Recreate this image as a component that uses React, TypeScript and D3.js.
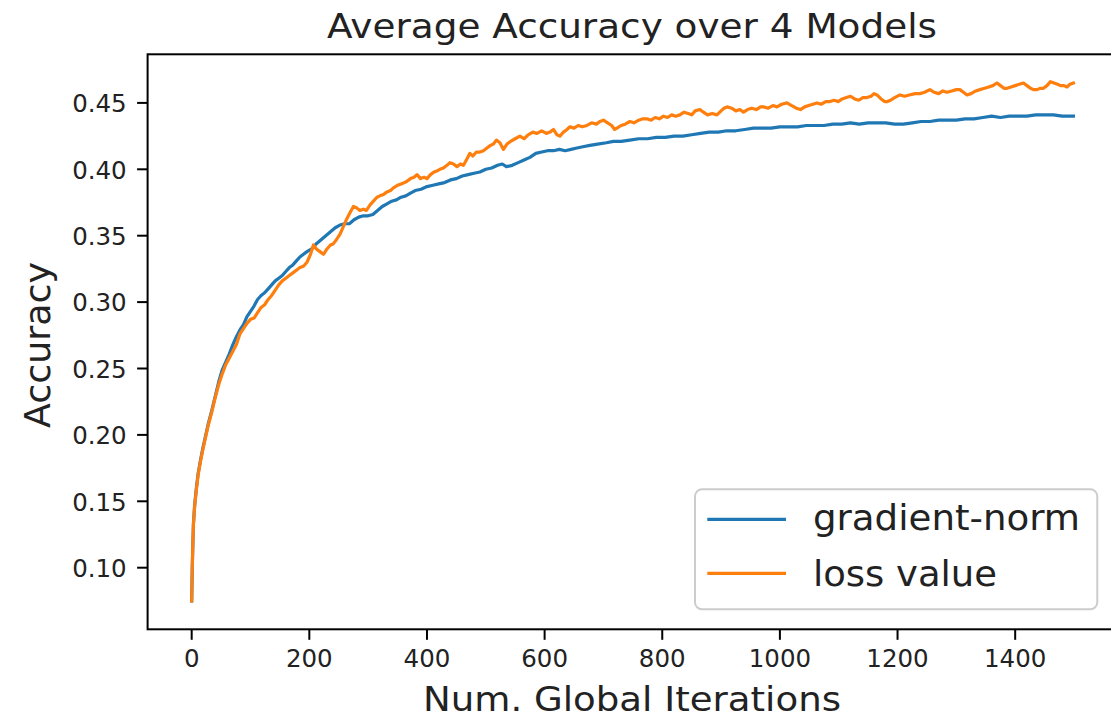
import React from "react";
import * as d3 from "d3";

const gradIters = [0,1,2,3,5,8,11,15,19,23,28,34,40,46,52,58,64,70,76,82,88,94,100,106,112,118,124,130,136,142,148,154,160,166,172,178,184,190,196,204,212,220,228,236,244,252,260,268,276,284,292,300,308,316,324,332,340,348,356,364,372,380,390,400,410,420,430,440,450,460,470,480,490,500,510,520,528,535,545,555,565,575,585,595,605,615,625,635,645,655,665,677,690,705,717,730,745,760,775,790,805,820,835,850,865,880,895,910,925,940,955,970,985,1000,1015,1030,1045,1060,1075,1090,1105,1120,1135,1150,1165,1180,1195,1210,1225,1240,1255,1270,1285,1300,1315,1330,1345,1360,1375,1390,1405,1420,1435,1450,1465,1480,1499];
const gradAcc = [0.075,0.100,0.118,0.133,0.147,0.160,0.171,0.181,0.190,0.198,0.208,0.218,0.229,0.240,0.249,0.255,0.261,0.268,0.274,0.279,0.283,0.289,0.293,0.297,0.302,0.305,0.307,0.310,0.313,0.316,0.318,0.320,0.323,0.326,0.328,0.331,0.334,0.336,0.338,0.340,0.344,0.347,0.350,0.353,0.356,0.358,0.359,0.359,0.362,0.364,0.365,0.365,0.366,0.369,0.372,0.374,0.376,0.377,0.379,0.380,0.382,0.384,0.385,0.387,0.388,0.389,0.390,0.392,0.393,0.395,0.396,0.397,0.398,0.400,0.401,0.403,0.404,0.402,0.403,0.405,0.407,0.409,0.412,0.413,0.414,0.414,0.415,0.414,0.415,0.416,0.417,0.418,0.419,0.420,0.421,0.421,0.422,0.423,0.423,0.424,0.424,0.425,0.425,0.426,0.427,0.428,0.428,0.429,0.429,0.430,0.431,0.431,0.431,0.432,0.432,0.432,0.433,0.433,0.433,0.434,0.434,0.435,0.434,0.435,0.435,0.435,0.434,0.434,0.435,0.436,0.436,0.437,0.437,0.437,0.438,0.438,0.439,0.440,0.439,0.440,0.440,0.440,0.441,0.441,0.441,0.440,0.440];

const lossIters = [0,1,2,3,5,8,11,15,19,23,28,34,40,46,52,58,64,70,76,82,88,94,100,106,112,118,124,130,136,142,148,154,160,166,172,178,184,190,196,202,207,212,218,224,230,236,241,246,252,258,264,270,275,280,286,292,297,303,309,315,320,326,332,338,343,350,356,362,366,372,378,383,389,395,400,406,412,418,422,428,434,439,445,451,457,462,467,473,478,484,490,496,502,508,513,518,524,530,536,542,550,558,565,572,580,587,595,603,609,615,621,626,632,638,643,650,657,664,672,680,688,694,700,707,714,719,723,730,737,745,752,760,767,774,781,788,795,802,809,816,823,830,837,844,850,856,864,870,877,885,893,900,905,910,918,925,932,938,945,952,960,967,972,980,988,995,1003,1012,1020,1028,1035,1042,1049,1056,1063,1070,1078,1085,1092,1099,1106,1113,1120,1127,1134,1141,1148,1155,1160,1165,1172,1178,1183,1188,1195,1204,1212,1220,1230,1238,1246,1255,1262,1270,1277,1284,1292,1300,1306,1312,1318,1325,1333,1340,1348,1355,1362,1369,1375,1381,1386,1393,1400,1407,1414,1420,1426,1431,1437,1443,1448,1454,1460,1466,1472,1477,1483,1488,1493,1499];
const lossAcc = [0.075,0.100,0.118,0.133,0.146,0.159,0.170,0.180,0.189,0.197,0.207,0.217,0.228,0.238,0.246,0.253,0.258,0.263,0.268,0.276,0.280,0.284,0.287,0.288,0.292,0.296,0.298,0.302,0.305,0.309,0.313,0.316,0.318,0.320,0.322,0.324,0.326,0.327,0.330,0.336,0.343,0.340,0.338,0.336,0.340,0.343,0.344,0.347,0.351,0.357,0.363,0.368,0.372,0.371,0.369,0.370,0.369,0.373,0.376,0.379,0.380,0.381,0.383,0.384,0.386,0.388,0.389,0.390,0.391,0.393,0.394,0.396,0.393,0.394,0.393,0.396,0.398,0.399,0.400,0.401,0.403,0.405,0.404,0.402,0.404,0.403,0.407,0.412,0.410,0.413,0.413,0.414,0.416,0.418,0.419,0.422,0.420,0.415,0.419,0.421,0.423,0.425,0.423,0.426,0.428,0.427,0.429,0.427,0.428,0.430,0.426,0.425,0.428,0.430,0.432,0.431,0.433,0.432,0.433,0.435,0.434,0.436,0.437,0.435,0.433,0.430,0.431,0.433,0.434,0.436,0.435,0.437,0.438,0.438,0.437,0.439,0.438,0.440,0.439,0.441,0.440,0.441,0.443,0.442,0.441,0.444,0.445,0.443,0.441,0.442,0.441,0.444,0.446,0.447,0.446,0.444,0.445,0.443,0.445,0.446,0.445,0.447,0.447,0.446,0.448,0.447,0.449,0.450,0.448,0.446,0.445,0.447,0.448,0.449,0.450,0.449,0.451,0.451,0.452,0.451,0.453,0.454,0.455,0.453,0.452,0.454,0.454,0.455,0.457,0.456,0.453,0.451,0.451,0.452,0.454,0.456,0.455,0.456,0.457,0.457,0.458,0.460,0.458,0.457,0.459,0.458,0.459,0.460,0.460,0.458,0.456,0.457,0.459,0.460,0.461,0.462,0.463,0.465,0.463,0.461,0.461,0.462,0.463,0.464,0.465,0.463,0.461,0.460,0.460,0.461,0.461,0.463,0.466,0.465,0.464,0.463,0.463,0.462,0.464,0.465];

const xTicks = [0, 200, 400, 600, 800, 1000, 1200, 1400];
const yTicks = [0.10, 0.15, 0.20, 0.25, 0.30, 0.35, 0.40, 0.45];
const seriesNames = ["gradient-norm", "loss value"];
const seriesColors = ["#1f77b4", "#ff7f0e"];

const W = 1111, H = 718;
const FONT = "'DejaVu Sans', sans-serif";

export default function App() {
  const left = 147.6, right = 1117.5, top = 54.3, bottom = 629.3;
  const x = d3.scaleLinear().domain([-74.95, 1573.95]).range([left, right]);
  const y = d3.scaleLinear().domain([0.05361, 0.4866]).range([bottom, top]);

  const mk = (its: number[], vals: number[]) =>
    its.map((it, i) => [it, vals[i]] as [number, number]);
  const series = [mk(gradIters, gradAcc), mk(lossIters, lossAcc)];
  const line = d3.line<[number, number]>().x((d) => x(d[0])).y((d) => y(d[1]));

  const tickColor = "#000";
  const textColor = "#222";

  return (
    <svg width={W} height={H} style={{ position: "absolute", left: 0, top: 0, background: "#fff" }} fontFamily={FONT}>
      <rect x={0} y={0} width={W} height={H} fill="#fff" />
      <defs>
        <clipPath id="plotclip">
          <rect x={left} y={top} width={right - left} height={bottom - top} />
        </clipPath>
      </defs>
      <text x={632} y={38.3} textAnchor="middle" fontSize={33} fill={textColor} textLength={610} lengthAdjust="spacingAndGlyphs">
        Average Accuracy over 4 Models
      </text>
      <g clipPath="url(#plotclip)">
        {series.map((s, i) => (
          <path key={i} d={line(s) || ""} fill="none" stroke={seriesColors[i]} strokeWidth={3.2} strokeLinejoin="round" strokeLinecap="square" />
        ))}
      </g>
      <rect x={left} y={top} width={right - left} height={bottom - top} fill="none" stroke="#000" strokeWidth={2} />
      {yTicks.map((t) => (
        <g key={"y" + t}>
          <line x1={left - 10.5} x2={left} y1={y(t)} y2={y(t)} stroke={tickColor} strokeWidth={2} />
          <text x={126.7} y={y(t) + 9.3} textAnchor="end" fontSize={24.5} fill={textColor}>
            {t.toFixed(2)}
          </text>
        </g>
      ))}
      {xTicks.map((t) => (
        <g key={"x" + t}>
          <line x1={x(t)} x2={x(t)} y1={bottom} y2={bottom + 10.5} stroke={tickColor} strokeWidth={2} />
          <text x={x(t)} y={666.7} textAnchor="middle" fontSize={24.5} fill={textColor}>
            {String(t)}
          </text>
        </g>
      ))}
      <text x={632} y={711} textAnchor="middle" fontSize={33.5} fill={textColor} textLength={418} lengthAdjust="spacingAndGlyphs">
        Num. Global Iterations
      </text>
      <text transform="translate(50,345) rotate(-90)" textAnchor="middle" fontSize={35} fill={textColor} textLength={166} lengthAdjust="spacingAndGlyphs">
        Accuracy
      </text>
      <rect x={695} y={489.3} width={402.3} height={120} rx={7} ry={7} fill="#fff" fillOpacity={0.8} stroke="#cccccc" strokeWidth={2} />
      {seriesNames.map((n, i) => (
        <g key={n}>
          <line x1={707.3} x2={786} y1={519.3 + i * 54} y2={519.3 + i * 54} stroke={seriesColors[i]} strokeWidth={3.2} />
          <text x={813} y={530 + i * 56} fontSize={35} fill={textColor} textLength={i === 0 ? 267 : 184} lengthAdjust="spacingAndGlyphs">
            {n}
          </text>
        </g>
      ))}
    </svg>
  );
}
